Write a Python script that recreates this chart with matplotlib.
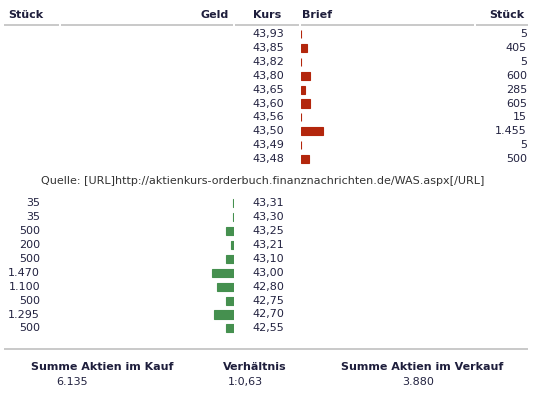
import matplotlib
matplotlib.use("Agg")
import matplotlib.pyplot as plt

# ── Data ────────────────────────────────────────────────────
ask_prices = ["43,93", "43,85", "43,82", "43,80", "43,65",
              "43,60", "43,56", "43,50", "43,49", "43,48"]
ask_qty = [5, 405, 5, 600, 285, 605, 15, 1455, 5, 500]

bid_prices = ["43,31", "43,30", "43,25", "43,21", "43,10",
              "43,00", "42,80", "42,75", "42,70", "42,55"]
bid_qty = [35, 35, 500, 200, 500, 1470, 1100, 500, 1295, 500]

headers = ["Stück", "Geld", "Kurs", "Brief", "Stück"]
source = "Quelle: [URL]http://aktienkurs-orderbuch.finanznachrichten.de/WAS.aspx[/URL]"
sum_labels = ["Summe Aktien im Kauf", "Verhältnis", "Summe Aktien im Verkauf"]
sum_values = ["6.135", "1:0,63", "3.880"]


def fmt(n):
    return f"{n:,}".replace(",", ".")


W, H = 533, 394
fig = plt.figure(figsize=(W / 100, H / 100), dpi=100)
fig.patch.set_facecolor("white")

# full-figure axes in pixel coordinates for text & rules
ax = fig.add_axes([0, 0, 1, 1])
ax.set_xlim(0, W)
ax.set_ylim(H, 0)
ax.axis("off")

HEAD = "#1e1e3c"
TXT = "#222240"
RULE = "#c0c0c0"
RED = "#b3260c"
GREEN = "#45904f"
FS = 8
ROW = 13.9
PX_PER_SHARE = 0.0151

# ── Header ─────────────────────────────────────────────────
hx = [8, 229, 253, 302, 524]
hal = ["left", "right", "left", "left", "right"]
for t, x, a in zip(headers, hx, hal):
    ax.text(x, 15, t, ha=a, va="center", fontsize=FS, fontweight="bold", color=HEAD)
for x0, x1 in [(4, 59), (61, 233), (235, 299), (301, 474), (476, 528)]:
    ax.plot([x0, x1], [25, 25], color=RULE, lw=1.2, solid_capstyle="butt")

# ── Ask side (Brief) ───────────────────────────────────────
ask_top = 34
for i, (p, q) in enumerate(zip(ask_prices, ask_qty)):
    y = ask_top + i * ROW
    ax.text(284, y, p, ha="right", va="center", fontsize=FS, color=TXT)
    ax.text(527, y, fmt(q), ha="right", va="center", fontsize=FS, color=TXT)

n = len(ask_qty)
bw = 60
ax_ask = fig.add_axes([301 / W, 1 - (ask_top - ROW / 2 + n * ROW) / H, bw / W, n * ROW / H])
ax_ask.barh(range(n), ask_qty, height=0.58, color=RED, edgecolor=RED, linewidth=0.8)
ax_ask.set_xlim(0, bw / PX_PER_SHARE)
ax_ask.set_ylim(n - 0.5, -0.5)
ax_ask.axis("off")

# ── Source line ────────────────────────────────────────────
ax.text(263, 181, source, ha="center", va="center", fontsize=FS, color="#333333")

# ── Bid side (Geld) ────────────────────────────────────────
bid_top = 203.3
for i, (p, q) in enumerate(zip(bid_prices, bid_qty)):
    y = bid_top + i * ROW
    ax.text(284, y, p, ha="right", va="center", fontsize=FS, color=TXT)
    ax.text(40, y, fmt(q), ha="right", va="center", fontsize=FS, color=TXT)

m = len(bid_qty)
ax_bid = fig.add_axes([(234 - bw) / W, 1 - (bid_top - ROW / 2 + m * ROW) / H, bw / W, m * ROW / H])
ax_bid.barh(range(m), bid_qty, height=0.58, color=GREEN, edgecolor=GREEN, linewidth=0.8)
ax_bid.set_xlim(bw / PX_PER_SHARE, 0)
ax_bid.set_ylim(m - 0.5, -0.5)
ax_bid.axis("off")

# ── Summary ────────────────────────────────────────────────
ax.plot([4, 528], [349, 349], color=RULE, lw=1.2, solid_capstyle="butt")
for t, x in zip(sum_labels, [102, 255, 422]):
    ax.text(x, 367, t, ha="center", va="center", fontsize=FS, fontweight="bold", color=HEAD)
for t, x in zip(sum_values, [72, 245, 418]):
    ax.text(x, 382, t, ha="center", va="center", fontsize=FS, color=TXT)

plt.savefig("out.png", dpi=100)
